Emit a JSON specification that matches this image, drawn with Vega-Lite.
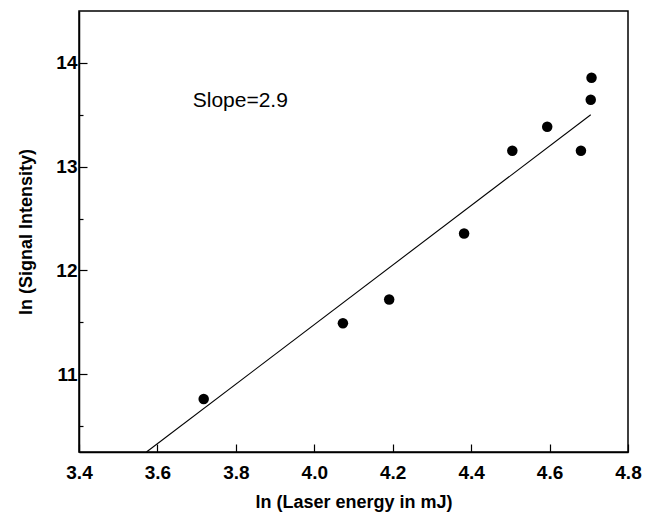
{
  "$schema": "https://vega.github.io/schema/vega-lite/v6.json",
  "width": 549,
  "height": 441,
  "autosize": {"type": "none"},
  "padding": {"left": 79, "top": 11, "right": 26, "bottom": 70},
  "background": "white",
  "config": {
    "view": {"stroke": "black", "strokeWidth": 1.5},
    "font": "Liberation Sans"
  },
  "layer": [
    {
      "data": {"values": [
        {"x": 3.718, "y": 10.76},
        {"x": 4.073, "y": 11.49},
        {"x": 4.191, "y": 11.72},
        {"x": 4.382, "y": 12.356},
        {"x": 4.505, "y": 13.154},
        {"x": 4.594, "y": 13.385},
        {"x": 4.68, "y": 13.154},
        {"x": 4.705, "y": 13.644},
        {"x": 4.707, "y": 13.856}
      ]},
      "mark": {"type": "circle", "color": "black", "opacity": 1, "size": 110},
      "encoding": {
        "x": {
          "field": "x", "type": "quantitative",
          "scale": {"domain": [3.4, 4.8], "nice": false, "zero": false},
          "axis": {
            "title": "ln (Laser energy in mJ)",
            "titleFontSize": 18, "titleFontWeight": "bold", "titleColor": "black", "titlePadding": 11,
            "values": [3.4,3.5,3.6,3.7,3.8,3.9,4.0,4.1,4.2,4.3,4.4,4.5,4.6,4.7,4.8],
            "labelExpr": "round(datum.value*10) % 2 == 0 ? format(datum.value, '.1f') : ''",
            "labelFontSize": 19, "labelFontWeight": "bold", "labelColor": "black",
            "labelPadding": 19, "labelFlush": false, "labelOverlap": false,
            "tickSize": {"condition": {"test": "round(datum.value*10) % 2 == 0", "value": -8}, "value": -4},
            "tickColor": "black", "tickWidth": 1.2,
            "domainColor": "black", "domainWidth": 1.5,
            "grid": false
          }
        },
        "y": {
          "field": "y", "type": "quantitative",
          "scale": {"domain": [10.25, 14.5], "nice": false, "zero": false},
          "axis": {
            "title": "ln (Signal Intensity)",
            "titleFontSize": 18, "titleFontWeight": "bold", "titleColor": "black", "titlePadding": 20,
            "values": [10.5,11,11.5,12,12.5,13,13.5,14],
            "labelExpr": "datum.value % 1 == 0 ? format(datum.value, 'd') : ''",
            "labelFontSize": 19, "labelFontWeight": "bold", "labelColor": "black",
            "labelPadding": 10, "labelFlush": false, "labelOverlap": false,
            "tickSize": {"condition": {"test": "datum.value % 1 == 0", "value": -8}, "value": -4},
            "tickColor": "black", "tickWidth": 1.2,
            "domainColor": "black", "domainWidth": 1.5,
            "grid": false
          }
        }
      }
    },
    {
      "data": {"values": [
        {"x": 3.572, "y": 10.25},
        {"x": 4.705, "y": 13.5}
      ]},
      "mark": {"type": "line", "color": "black", "strokeWidth": 1.1},
      "encoding": {
        "x": {"field": "x", "type": "quantitative"},
        "y": {"field": "y", "type": "quantitative"}
      }
    },
    {
      "data": {"values": [{"x": 3.69, "y": 13.63, "label": "Slope=2.9"}]},
      "mark": {"type": "text", "align": "left", "baseline": "middle", "fontSize": 21, "color": "black", "font": "Liberation Sans"},
      "encoding": {
        "x": {"field": "x", "type": "quantitative"},
        "y": {"field": "y", "type": "quantitative"},
        "text": {"field": "label"}
      }
    }
  ]
}
